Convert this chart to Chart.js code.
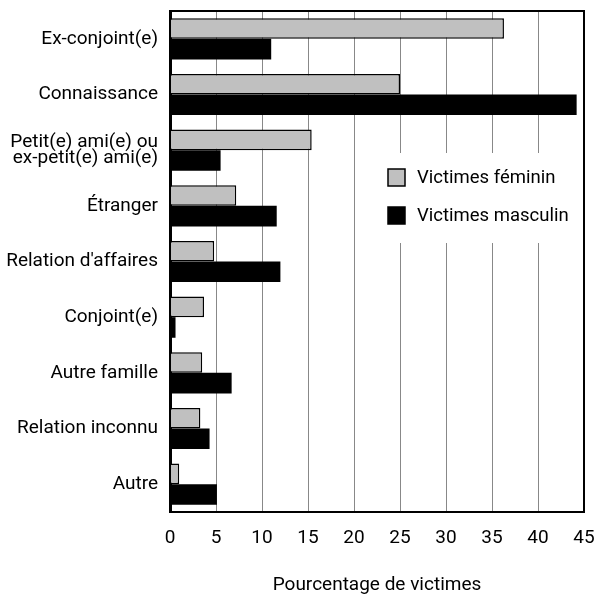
<!DOCTYPE html>
<html>
<head>
<meta charset="utf-8">
<script src="https://cdn.jsdelivr.net/npm/chart.js@4.4.1/dist/chart.umd.min.js"></script>
<style>
    html, body { margin: 0; padding: 0; background: #fff; }
</style>
</head>
<body>
<canvas id="graficoVictimes" width="594" height="595"></canvas>
<script>
// Données
const categories = [
    'Ex-conjoint(e)',
    'Connaissance',
    ['Petit(e) ami(e) ou', 'ex-petit(e) ami(e)'],
    'Étranger',
    "Relation d'affaires",
    'Conjoint(e)',
    'Autre famille',
    'Relation inconnu',
    'Autre'
];
const victimesFeminin = [36.3, 25.0, 15.4, 7.2, 4.8, 3.7, 3.5, 3.3, 1.0];
const victimesMasculin = [11.0, 44.2, 5.5, 11.6, 12.0, 0.6, 6.7, 4.3, 5.1];
const etiquettesSeries = ['Victimes féminin', 'Victimes masculin'];
const xMin = 0, xMax = 45, xPas = 5;
const titreAxeX = 'Pourcentage de victimes';

const police = "Roboto, 'Liberation Sans', sans-serif";
Chart.defaults.font.family = police;
Chart.defaults.color = '#000';

// Légende dessinée à l'intérieur de la zone du graphique, sur fond blanc
const legendeInterne = {
    id: 'legendeInterne',
    afterDatasetsDraw(chart) {
        const { ctx, chartArea } = chart;
        const x0 = chartArea.left + 200;
        const y0 = chartArea.top + 142;
        ctx.save();
        ctx.fillStyle = '#fff';
        ctx.fillRect(x0, y0, 208, 90);
        ctx.font = '18.5px ' + police;
        ctx.textBaseline = 'middle';
        chart.data.datasets.forEach((ds, i) => {
            const y = y0 + 16 + i * 38;
            ctx.fillStyle = ds.backgroundColor;
            ctx.fillRect(x0 + 18, y, 17, 17);
            ctx.lineWidth = 1.5;
            ctx.strokeStyle = '#000';
            ctx.strokeRect(x0 + 18, y, 17, 17);
            ctx.fillStyle = '#000';
            ctx.fillText(ds.label, x0 + 47, y + 9);
        });
        ctx.restore();
    }
};

// Cadre noir autour de la zone de tracé
const cadre = {
    id: 'cadre',
    afterDraw(chart) {
        const { ctx, chartArea } = chart;
        ctx.save();
        ctx.strokeStyle = '#000';
        ctx.lineWidth = 2;
        ctx.strokeRect(chartArea.left, chartArea.top, chartArea.right - chartArea.left, chartArea.bottom - chartArea.top);
        ctx.restore();
    }
};

new Chart(document.getElementById('graficoVictimes'), {
    type: 'bar',
    data: {
        labels: categories,
        datasets: [{
            label: etiquettesSeries[0],
            data: victimesFeminin,
            backgroundColor: '#c0c0c0',
            borderColor: '#000',
            borderWidth: 1.5,
            categoryPercentage: 0.74,
            barPercentage: 1.0
        }, {
            label: etiquettesSeries[1],
            data: victimesMasculin,
            backgroundColor: '#000',
            borderColor: '#000',
            borderWidth: 0,
            categoryPercentage: 0.74,
            barPercentage: 1.0
        }]
    },
    options: {
        indexAxis: 'y',
        responsive: false,
        animation: false,
        layout: { padding: { top: 11, right: 10, left: 0, bottom: 0 } },
        scales: {
            x: {
                min: xMin,
                max: xMax,
                ticks: { stepSize: xPas, color: '#000', font: { size: 19 }, padding: 15 },
                grid: { color: '#888', lineWidth: 1, drawTicks: false },
                border: { display: true, color: '#000', width: 2 },
                title: {
                    display: true,
                    text: titreAxeX,
                    color: '#000',
                    font: { size: 19 },
                    padding: { top: 0, bottom: -2 }
                },
                afterFit: s => {
                    s.height = 83;
                    s.paddingLeft = 0;
                    s.paddingRight = 0;
                }
            },
            y: {
                grid: { display: false, drawTicks: false },
                border: { display: true, color: '#000', width: 3 },
                ticks: { color: '#000', font: { size: 19, lineHeight: 0.85 }, padding: 12 },
                afterFit: s => {
                    s.width = 170;
                    s.paddingTop = 0;
                    s.paddingBottom = 0;
                }
            }
        },
        plugins: {
            legend: { display: false },
            tooltip: { enabled: false }
        }
    },
    plugins: [legendeInterne, cadre]
});
</script>
</body>
</html>
